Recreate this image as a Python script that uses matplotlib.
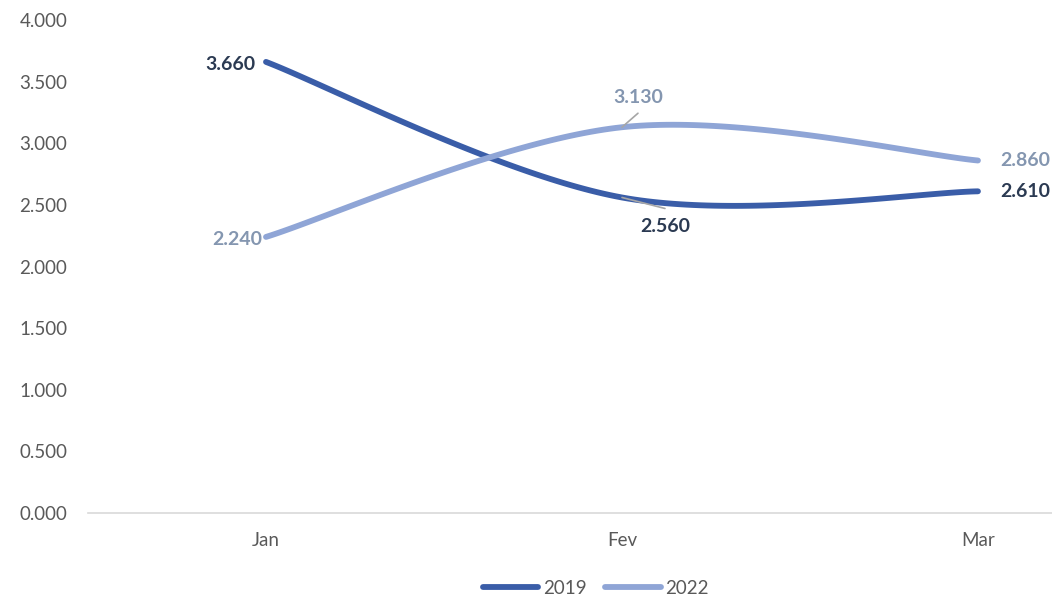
import numpy as np
import matplotlib
matplotlib.use("Agg")
import matplotlib.pyplot as plt
from matplotlib.ticker import FuncFormatter, MultipleLocator

months = ["Jan", "Fev", "Mar"]
s2019 = [3660, 2560, 2610]
s2022 = [2240, 3130, 2860]
series_names = ["2019", "2022"]

c2019 = "#3A5DA8"
c2022 = "#8FA5D6"
lab2019 = "#2B3A52"
lab2022 = "#8496B0"
tick_col = "#595959"

plt.rcParams['font.family'] = ['Lato', 'DejaVu Sans']


def smooth(xs, ys, n=60):
    P = np.column_stack([xs, ys]).astype(float)
    m = len(P)
    out = []
    for i in range(m - 1):
        p0 = P[i - 1] if i > 0 else P[i]
        p1 = P[i]
        p2 = P[i + 1]
        p3 = P[i + 2] if i + 2 < m else P[i + 1]
        c1 = p1 + (p2 - p0) / 6.0
        c2 = p2 - (p3 - p1) / 6.0
        t = np.linspace(0, 1, n)[:, None]
        seg = ((1 - t) ** 3) * p1 + 3 * ((1 - t) ** 2) * t * c1 + 3 * (1 - t) * t ** 2 * c2 + t ** 3 * p2
        if i > 0:
            seg = seg[1:]
        out.append(seg)
    out = np.vstack(out)
    return out[:, 0], out[:, 1]


fig = plt.figure(figsize=(10.52, 6.0), dpi=100)
ax = fig.add_axes([88 / 1052, 87 / 600, 964 / 1052, 493 / 600])

x = np.arange(len(months))
for vals, col, name in [(s2019, c2019, series_names[0]), (s2022, c2022, series_names[1])]:
    sx, sy = smooth(x, vals)
    ax.plot(sx, sy, color=col, lw=4.2, solid_capstyle='round', label=name)

ax.set_xlim(-0.5, 2.208)
ax.set_ylim(0, 4000)
ax.yaxis.set_major_locator(MultipleLocator(500))
ax.yaxis.set_major_formatter(FuncFormatter(lambda v, p: f"{v/1000:.3f}"))
ax.set_xticks(x)
ax.set_xticklabels(months)
ax.tick_params(axis='both', length=0, labelsize=13.5, labelcolor=tick_col)
ax.tick_params(axis='x', pad=14)
ax.tick_params(axis='y', pad=15)
for s in ['top', 'right', 'left']:
    ax.spines[s].set_visible(False)
ax.spines['bottom'].set_color('#D9D9D9')
ax.spines['bottom'].set_linewidth(1.2)

fmt = lambda v: f"{v/1000:.3f}"
kw = dict(textcoords='offset pixels', fontsize=14, fontweight='bold', va='center')

# 2019 labels
ax.annotate(fmt(s2019[0]), (0, s2019[0]), xytext=(-11, -3), ha='right', color=lab2019, **kw)
ax.annotate(fmt(s2019[1]), (1, s2019[1]), xytext=(43, -29), ha='center', color=lab2019, **kw)
ax.annotate(fmt(s2019[2]), (2, s2019[2]), xytext=(22, 0), ha='left', color=lab2019, **kw)
# 2022 labels
ax.annotate(fmt(s2022[0]), (0, s2022[0]), xytext=(-4, -3), ha='right', color=lab2022, **kw)
ax.annotate(fmt(s2022[1]), (1, s2022[1]), xytext=(16, 30), ha='center', color=lab2022, **kw)
ax.annotate(fmt(s2022[2]), (2, s2022[2]), xytext=(22, 0), ha='left', color=lab2022, **kw)

# leader lines
lk = dict(textcoords='offset pixels', arrowprops=dict(arrowstyle='-', color='#A6A6A6', lw=1.2, shrinkA=0, shrinkB=0))
ax.annotate('', xy=(1, s2022[1]), xytext=(16, 14), **lk)
ax.annotate('', xy=(1, s2019[1]), xytext=(43, -11), **lk)

leg = fig.legend(loc='center', bbox_to_anchor=(596 / 1052, 12 / 600), ncol=2, frameon=False,
                 fontsize=13.5, handlelength=2.95, handletextpad=0.25, columnspacing=1.0,
                 borderpad=0.0)
for t in leg.get_texts():
    t.set_color(tick_col)

fig.savefig("out.png", dpi=100)
